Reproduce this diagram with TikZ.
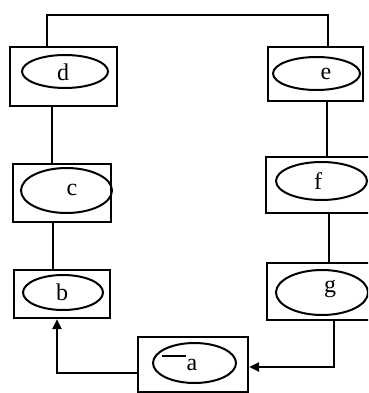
\documentclass[tikz,border=0pt]{standalone}
\usepackage{fontspec}
\setmainfont{Liberation Serif}
\usetikzlibrary{arrows.meta,shapes.geometric}
\begin{document}
\begin{tikzpicture}[x=1pt,y=-1pt,
  box/.style={draw,line width=2.2pt,rectangle,inner sep=0pt},
  oval/.style={draw,line width=2pt,ellipse,inner sep=0pt},
  lbl/.style={font=\fontsize{24}{24}\selectfont,inner sep=0pt},
  conn/.style={line width=2pt},
  arr/.style={conn,-{Triangle[length=10pt,width=9pt]}}]
\useasboundingbox (0,0) rectangle (368,393);
\clip (0,0) rectangle (368,393);
% boxes
\node[box,minimum width=107pt,minimum height=59pt] (d) at (63.5,76.5) {};
\node[box,minimum width=95pt,minimum height=54pt] (e) at (315.5,74) {};
\node[box,minimum width=98pt,minimum height=58pt] (c) at (62,193) {};
\node[box,minimum width=106pt,minimum height=56pt] (f) at (319,185) {};
\node[box,minimum width=96pt,minimum height=48pt] (b) at (62,294) {};
\node[box,minimum width=105pt,minimum height=57pt] (g) at (319.5,291.5) {};
\node[box,minimum width=110pt,minimum height=55pt] (a) at (193,364.5) {};
% ellipses
\node[oval,minimum width=86pt,minimum height=33pt] (de) at (65,71.5) {};
\node[oval,minimum width=87pt,minimum height=33pt] (ee) at (316.5,73.5) {};
\node[oval,minimum width=91pt,minimum height=45pt] (ce) at (66.5,190.5) {};
\node[oval,minimum width=91pt,minimum height=38pt] (fe) at (321.5,181) {};
\node[oval,minimum width=80pt,minimum height=35pt] (be) at (63,292.5) {};
\node[oval,minimum width=92pt,minimum height=45pt] (ge) at (322,292.5) {};
\node[oval,minimum width=83pt,minimum height=40pt] (ae) at (194.5,363) {};
% labels
\node[lbl] (dl) at (63,72) {d};
\node[lbl] (el) at (326,74) {e};
\node[lbl] (cl) at (72,190) {c};
\node[lbl] (fl) at (318,181) {f};
\node[lbl] (bl) at (62,292) {b};
\node[lbl] (gl) at (330,289) {g};
\node[lbl] (al) at (192,365) {a};
\coordinate (am) at (162,356);
\coordinate (an) at (186,356);
\draw[line width=1.6pt] (am) -- (an);
% connectors
\coordinate (t1) at (47,15);
\coordinate (t2) at (328,15);
\draw[conn] (t1 |- d.north) -- (t1) -- (t2) -- (t2 |- e.north);
\coordinate (x1) at (52,0);
\draw[conn] (x1 |- d.south) -- (x1 |- c.north);
\coordinate (x2) at (53,0);
\draw[conn] (x2 |- c.south) -- (x2 |- b.north);
\coordinate (x3) at (327,0);
\draw[conn] (x3 |- e.south) -- (x3 |- f.north);
\coordinate (x4) at (329,0);
\draw[conn] (x4 |- f.south) -- (x4 |- g.north);
\coordinate (gc) at (334,367);
\draw[arr] (gc |- g.south) -- (gc) -- (gc -| a.east);
\coordinate (bc) at (57,373);
\draw[arr] (bc -| a.west) -- (bc) -- (bc |- b.south);
\end{tikzpicture}
\end{document}
